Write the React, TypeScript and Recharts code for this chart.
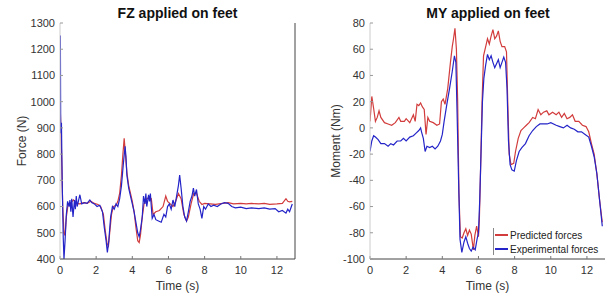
import React from 'react';
import { LineChart, Line, XAxis, YAxis, ReferenceLine, Legend } from 'recharts';

// ---------- FZ applied on feet ----------
const fzPredT = [0, 0.05, 0.1, 0.15, 0.22, 0.28, 0.35, 0.45, 0.6, 0.75, 0.9, 1.1, 1.3, 1.5, 1.7, 1.9, 2.1, 2.25, 2.4, 2.5, 2.6, 2.68, 2.75, 2.85, 2.95, 3.1, 3.2, 3.3, 3.4, 3.48, 3.55, 3.62, 3.7, 3.8, 3.9, 4.0, 4.1, 4.2, 4.3, 4.38, 4.45, 4.55, 4.65, 4.8, 4.95, 5.05, 5.15, 5.3, 5.5, 5.7, 5.85, 5.95, 6.1, 6.25, 6.4, 6.55, 6.7, 6.85, 7.0, 7.1, 7.25, 7.4, 7.55, 7.7, 7.85, 8.0, 8.3, 8.6, 9.0, 9.3, 9.6, 10.0, 10.3, 10.6, 11.0, 11.3, 11.6, 12.0, 12.3, 12.5, 12.6, 12.7, 12.85];
const fzPred = [1000, 900, 760, 600, 500, 490, 560, 610, 615, 625, 612, 610, 615, 612, 620, 612, 608, 600, 570, 510, 460, 450, 500, 570, 600, 605, 620, 650, 720, 800, 860, 800, 730, 680, 650, 620, 580, 520, 470, 463, 490, 560, 610, 630, 635, 630, 570, 580, 585, 600, 640, 620, 610, 600, 620, 650, 630, 570, 545, 560, 610, 650, 650, 620, 608, 612, 610, 608, 612, 615, 610, 612, 610, 612, 610, 612, 608, 610, 612, 630, 620, 618, 620];

const fzExpT = [0, 0.02, 0.04, 0.08, 0.12, 0.18, 0.22, 0.28, 0.35, 0.42, 0.5, 0.55, 0.6, 0.65, 0.72, 0.8, 0.85, 0.9, 0.95, 1.05, 1.1, 1.2, 1.35, 1.5, 1.65, 1.75, 1.9, 2.05, 2.2, 2.35, 2.45, 2.55, 2.62, 2.7, 2.8, 2.9, 3.0, 3.1, 3.2, 3.3, 3.4, 3.5, 3.6, 3.65, 3.7, 3.8, 3.9, 4.0, 4.1, 4.2, 4.3, 4.38, 4.45, 4.55, 4.62, 4.7, 4.75, 4.8, 4.9, 4.95, 5.0, 5.05, 5.1, 5.2, 5.3, 5.45, 5.6, 5.75, 5.85, 5.95, 6.05, 6.15, 6.25, 6.35, 6.45, 6.55, 6.62, 6.7, 6.8, 6.9, 7.0, 7.1, 7.2, 7.3, 7.38, 7.45, 7.55, 7.65, 7.75, 7.85, 7.95, 8.05, 8.2, 8.35, 8.5, 8.7, 8.9, 9.1, 9.3, 9.5, 9.7, 10.0, 10.3, 10.6, 11.0, 11.3, 11.6, 11.9, 12.1, 12.3, 12.5, 12.6, 12.7, 12.8, 12.85];
const fzExp = [1250, 1250, 880, 920, 700, 480, 400, 470, 570, 620, 600, 625, 580, 630, 560, 625, 590, 640, 600, 630, 645, 610, 615, 612, 625, 615, 610, 600, 605, 580, 520, 470, 425, 470, 560, 600, 590, 610, 600, 630, 680, 760, 830, 790, 720, 670, 640, 610, 580, 540, 500, 485, 510, 560, 640, 610, 650, 600, 645, 620, 650, 600, 555, 570, 550, 545, 540, 570, 560, 600, 610, 590, 625, 600, 640, 680, 720, 670, 600, 560, 545, 580, 620, 640, 670, 640, 665, 610, 590, 555, 600, 590, 610, 600, 605, 600, 610, 615, 612, 600, 595, 598, 592, 595, 592, 595, 590, 592, 580, 585, 575, 590, 580, 600, 610];

// ---------- MY applied on feet ----------
const myPredT = [0, 0.1, 0.2, 0.3, 0.4, 0.5, 0.6, 0.8, 1.0, 1.2, 1.4, 1.6, 1.7, 1.9, 2.0, 2.2, 2.4, 2.5, 2.6, 2.7, 2.8, 2.9, 3.0, 3.1, 3.2, 3.3, 3.5, 3.7, 3.85, 3.95, 4.05, 4.15, 4.3, 4.45, 4.55, 4.62, 4.7, 4.78, 4.85, 4.92, 5.0, 5.1, 5.2, 5.3, 5.4, 5.5, 5.6, 5.72, 5.8, 5.9, 6.0, 6.05, 6.12, 6.2, 6.28, 6.4, 6.5, 6.6, 6.7, 6.8, 6.9, 7.0, 7.1, 7.2, 7.3, 7.45, 7.55, 7.62, 7.7, 7.8, 7.95, 8.05, 8.2, 8.35, 8.5, 8.65, 8.8, 9.0, 9.15, 9.3, 9.45, 9.6, 9.78, 9.9, 10.1, 10.3, 10.45, 10.6, 10.75, 10.9, 11.05, 11.2, 11.35, 11.55, 11.75, 11.95, 12.1, 12.25, 12.4, 12.55, 12.7, 12.85];
const myPred = [5, 24, 15, 5, 8, 13, 8, 4, 3, 2, 4, 8, 5, 5, 7, 4, 10, 5, 18, 17, 19, 16, 14, -5, 8, 5, 4, 2, 3, 20, 22, 18, 30, 50, 62, 68, 76, 60, 20, -50, -83, -84, -80, -77, -82, -78, -81, -93, -82, -75, -83, -70, -30, 20, 55, 62, 68, 64, 70, 75, 68, 70, 74, 66, 62, 62, 58, 20, -20, -28, -27, -18, -8, -2, 0, 2, 4, 8, 7, 14, 10, 12, 13, 10, 12, 10, 12, 8, 11, 7, 8, 10, 5, 5, 2, 1, -3, -12, -20, -35, -55, -72];

const myExpT = [0, 0.1, 0.2, 0.3, 0.45, 0.6, 0.8, 1.0, 1.15, 1.3, 1.5, 1.7, 1.85, 2.0, 2.2, 2.4, 2.55, 2.7, 2.8, 2.85, 2.95, 3.05, 3.15, 3.3, 3.45, 3.6, 3.75, 3.9, 4.0, 4.1, 4.25, 4.4, 4.55, 4.67, 4.75, 4.82, 4.9, 4.98, 5.08, 5.2, 5.3, 5.4, 5.5, 5.6, 5.7, 5.82, 5.92, 6.0, 6.07, 6.15, 6.22, 6.3, 6.4, 6.5, 6.6, 6.7, 6.8, 6.9, 7.0, 7.1, 7.2, 7.3, 7.4, 7.5, 7.58, 7.66, 7.75, 7.85, 7.98, 8.1, 8.25, 8.4, 8.6, 8.8, 9.0, 9.2, 9.4, 9.6, 9.8, 10.0, 10.3, 10.5, 10.7, 10.9, 11.1, 11.3, 11.5, 11.7, 11.9, 12.1, 12.25, 12.4, 12.55, 12.7, 12.85];
const myExp = [-18, -10, -6, -7, -9, -12, -12, -14, -12, -13, -10, -10, -8, -10, -7, -6, -4, -2, 0, -3, -8, -18, -14, -15, -14, -16, -14, -10, -5, 5, 18, 30, 43, 55, 50, 10, -40, -85, -95, -87, -83, -88, -92, -94, -91, -93, -85, -80, -55, -15, 20, 38, 48, 56, 52, 55, 50, 46, 49, 52, 46, 50, 54, 50, 30, -10, -28, -32, -33, -25, -18, -15, -12, -6, -2, 1, 3, 3, 3, 4, 2, 1, 0, 2, 0, -1, -3, -3, -5, -7, -14, -22, -35, -55, -75];

const xTicks = [0, 2, 4, 6, 8, 10, 12];
const fzTicks = [400, 500, 600, 700, 800, 900, 1000, 1100, 1200, 1300];
const myTicks = [-100, -80, -60, -40, -20, 0, 20, 40, 60, 80];

const seriesNames = ['Predicted forces', 'Experimental forces'];

const RED = '#d23c3c';
const BLUE = '#2424c8';
const FONT = 'Liberation Sans, Arial, sans-serif';

const zip = (t: number[], v: number[]) => t.map((x, i) => ({ t: x, v: v[i] }));

const fzPredData = zip(fzPredT, fzPred);
const fzExpData = zip(fzExpT, fzExp);
const myPredData = zip(myPredT, myPred);
const myExpData = zip(myExpT, myExp);

const tickStyle = { fontSize: 11, fill: '#333', fontFamily: FONT };

const yLabel = (text: string, x: number) => ({
  content: () => (
    <text
      x={x}
      y={141}
      transform={`rotate(-90 ${x} 141)`}
      textAnchor="middle"
      dominantBaseline="central"
      fontSize={12}
      fill="#333"
      fontFamily={FONT}
    >
      {text}
    </text>
  ),
});

const xLabel = (cx: number) => ({
  content: () => (
    <text x={cx} y={286} textAnchor="middle" dominantBaseline="central" fontSize={12} fill="#333" fontFamily={FONT}>
      Time (s)
    </text>
  ),
});

const LegendBox = () => (
  <div style={{ position: 'relative', width: 120, height: 28, fontFamily: FONT, fontSize: 10, color: '#222' }}>
    <div style={{ position: 'absolute', left: 0, top: 0, width: 1, height: 27, background: '#888' }} />
    {seriesNames.map((n, i) => (
      <div key={n} style={{ position: 'absolute', left: 2, top: i * 14, height: 14, display: 'flex', alignItems: 'center', whiteSpace: 'nowrap' }}>
        <span style={{ display: 'inline-block', width: 13, height: 1.3, background: i === 0 ? RED : BLUE, marginRight: 2 }} />
        <span>{n}</span>
      </div>
    ))}
  </div>
);

const Title = ({ text, cx }: { text: string; cx: number }) => (
  <div
    style={{
      position: 'absolute',
      left: cx - 100,
      width: 200,
      top: 4,
      textAlign: 'center',
      fontFamily: FONT,
      fontWeight: 'bold',
      fontSize: 14,
      lineHeight: '18px',
      color: '#111',
    }}
  >
    {text}
  </div>
);

export default function App() {
  return (
    <div style={{ position: 'absolute', left: 0, top: 0, width: 611, height: 297, background: '#fff' }}>
      <div style={{ position: 'absolute', left: 0, top: 0 }}>
        <LineChart width={305} height={297} margin={{ top: 23, right: 10, bottom: 18, left: 0 }}>
          <XAxis
            type="number"
            dataKey="t"
            domain={[0, 13]}
            ticks={xTicks}
            allowDataOverflow
            height={20}
            tickSize={-3}
            tickMargin={10}
            tick={tickStyle}
            stroke="#444"
            tickLine={{ stroke: '#777' }}
            label={xLabel(177.5)}
          />
          <YAxis
            type="number"
            domain={[400, 1300]}
            ticks={fzTicks}
            allowDataOverflow
            width={60}
            tickSize={-3}
            tickMargin={8}
            tick={tickStyle}
            axisLine={{ stroke: '#ccc' }}
            tickLine={{ stroke: '#999' }}
            label={yLabel('Force (N)', 22)}
          />
          <ReferenceLine x={13} stroke="#444" />
          <Line data={fzPredData} dataKey="v" type="linear" stroke={RED} strokeWidth={1.2} dot={false} isAnimationActive={false} />
          <Line data={fzExpData} dataKey="v" type="linear" stroke={BLUE} strokeWidth={1.2} dot={false} isAnimationActive={false} />
        </LineChart>
        <Title text="FZ applied on feet" cx={177.5} />
      </div>
      <div style={{ position: 'absolute', left: 310, top: 0 }}>
        <LineChart width={301} height={297} margin={{ top: 23, right: 6, bottom: 18, left: 0 }}>
          <XAxis
            type="number"
            dataKey="t"
            domain={[0, 13]}
            ticks={xTicks}
            allowDataOverflow
            height={20}
            tickSize={-3}
            tickMargin={10}
            tick={tickStyle}
            stroke="#444"
            tickLine={{ stroke: '#777' }}
            label={xLabel(177.5)}
          />
          <YAxis
            type="number"
            domain={[-100, 80]}
            ticks={myTicks}
            allowDataOverflow
            width={60}
            tickSize={-3}
            tickMargin={8}
            tick={tickStyle}
            axisLine={{ stroke: '#ccc' }}
            tickLine={{ stroke: '#999' }}
            label={yLabel('Moment (Nm)', 26)}
          />
          <Line data={myPredData} dataKey="v" type="linear" stroke={RED} strokeWidth={1.2} dot={false} isAnimationActive={false} />
          <Line data={myExpData} dataKey="v" type="linear" stroke={BLUE} strokeWidth={1.2} dot={false} isAnimationActive={false} />
          <Legend
            layout="vertical"
            align="center"
            verticalAlign="middle"
            content={() => <LegendBox />}
            wrapperStyle={{ position: 'absolute', left: 183, top: 228, width: 120, height: 28 }}
          />
        </LineChart>
        <Title text="MY applied on feet" cx={178} />
      </div>
    </div>
  );
}
